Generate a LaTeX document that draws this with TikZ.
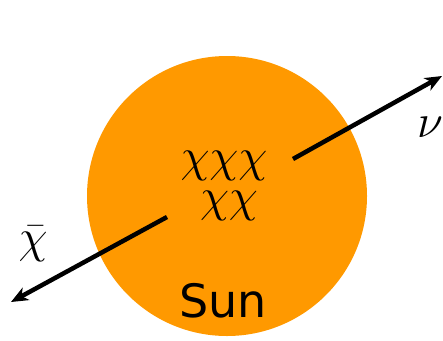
\documentclass[tikz,border=0pt]{standalone}
\usepackage{fontspec}
\usetikzlibrary{arrows.meta}
\newfontfamily\sunfont{DejaVu Sans}
\definecolor{sunorange}{HTML}{FF9900}
\newcommand{\bigmath}[1]{\scalebox{1.9}{\Huge$#1$}}
\begin{document}
\begin{tikzpicture}[x=1pt,y=-1pt,
  ray/.style={line width=4.5pt,-{Stealth[length=17pt,width=14pt,inset=5pt]}},
  lbl/.style={inner sep=0pt}]
\useasboundingbox (0,0) rectangle (443,340);
\fill[sunorange] (227,196) circle[radius=140];
\node[lbl] (top) at (224,166) {\bigmath{\chi\chi\chi}};
\node[lbl] (bot) at (229,206) {\bigmath{\chi\chi}};
\node[inner sep=0pt,font=\sunfont\fontsize{46}{46}\selectfont] (sun) at (223,301) {Sun};
\node[lbl] (nu) at (430,127) {\bigmath{\nu}};
\node[lbl] (chib) at (33,244) {\bigmath{\bar\chi}};
\coordinate (a1) at (293,159);
\coordinate (a2) at (442,76);
\coordinate (b1) at (167,217);
\coordinate (b2) at (11,302);
\draw[ray] (a1) -- (a2);
\draw[ray] (b1) -- (b2);
\end{tikzpicture}
\end{document}
